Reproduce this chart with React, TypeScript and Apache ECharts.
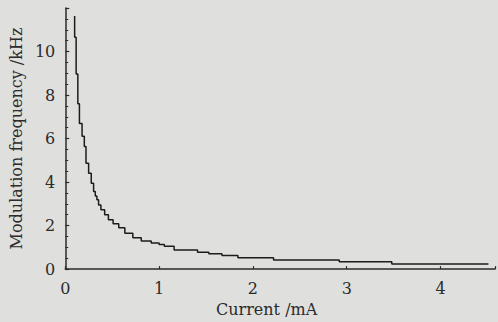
import React, { useEffect, useRef } from "react";
import * as echarts from "echarts";

const currentMA = [0.10, 0.116, 0.134, 0.151, 0.179, 0.203, 0.221, 0.249, 0.277, 0.302, 0.32, 0.337, 0.355, 0.38, 0.42, 0.46, 0.51, 0.57, 0.635, 0.72, 0.81, 0.916, 1.0, 1.056, 1.16, 1.41, 1.53, 1.67, 1.84, 2.22, 2.92, 3.48, 4.51];
const freqKHz = [11.63, 10.65, 8.97, 7.6, 6.69, 6.1, 5.64, 4.86, 4.41, 3.95, 3.57, 3.36, 3.19, 2.95, 2.73, 2.5, 2.27, 2.08, 1.9, 1.65, 1.44, 1.29, 1.2, 1.13, 1.05, 0.88, 0.78, 0.71, 0.63, 0.52, 0.42, 0.34, 0.24];
const xTicks = [0, 1, 2, 3, 4];
const yTicks = [0, 2, 4, 6, 8, 10];

const FONT = "DejaVu Serif";
const INK = "#2b2b2b";

export default function App() {
  const ref = useRef<HTMLDivElement>(null);
  useEffect(() => {
    if (!ref.current) return;
    const chart = echarts.init(ref.current, undefined, { renderer: "svg" });
    const data = currentMA.map((x, i) => [x, freqKHz[i]]);
    chart.setOption({
      animation: false,
      backgroundColor: "#dfdfdd",
      grid: { left: 63, top: 8, right: 0, bottom: 50.5 },
      xAxis: {
        type: "value",
        min: 0,
        max: 4.58,
        interval: 1,
        name: "Current /mA",
        nameLocation: "middle",
        nameGap: 28,
        nameTextStyle: { fontFamily: FONT, fontSize: 16, color: INK, padding: [0, 27, 0, 0], verticalAlign: "top" },
        axisLine: { show: true, onZero: false, lineStyle: { color: INK, width: 1.5 } },
        axisTick: { show: true, inside: true, length: 3, lineStyle: { color: INK, width: 1.2 } },
        axisLabel: {
          fontFamily: FONT, fontSize: 16, color: INK, margin: 11,
          formatter: (v: number) => (xTicks.includes(v) ? String(v) : ""),
        },
        splitLine: { show: false },
      },
      yAxis: {
        type: "value",
        min: 0,
        max: 12,
        interval: 2,
        name: "Modulation frequency /kHz",
        nameLocation: "middle",
        nameGap: 35,
        nameTextStyle: { fontFamily: FONT, fontSize: 16, color: INK },
        axisLine: { show: true, onZero: false, lineStyle: { color: INK, width: 1.5 } },
        axisTick: { show: true, inside: true, length: 4, lineStyle: { color: INK, width: 1.2 } },
        minorTick: { show: true, splitNumber: 4, length: 3, lineStyle: { color: INK, width: 1 } },
        axisLabel: {
          fontFamily: FONT, fontSize: 16, color: INK, margin: 10,
          formatter: (v: number) => (yTicks.includes(v) ? String(v) : ""),
        },
        splitLine: { show: false },
        minorSplitLine: { show: false },
      },
      series: [
        {
          type: "line",
          step: "start",
          data,
          showSymbol: false,
          lineStyle: { color: "#1c1c1c", width: 1.5 },
        },
      ],
    });
    return () => chart.dispose();
  }, []);
  return (
    <div
      ref={ref}
      style={{ position: "fixed", left: 0, top: 0, width: 498, height: 322, background: "#dfdfdd" }}
    />
  );
}
